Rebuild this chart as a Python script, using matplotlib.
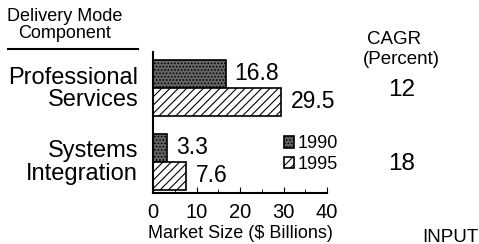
import matplotlib.pyplot as plt
from matplotlib.ticker import MultipleLocator

plt.rcParams['font.family'] = ['Liberation Sans', 'DejaVu Sans']
plt.rcParams['hatch.linewidth'] = 0.8

categories = ['Professional\nServices', 'Systems\nIntegration']
values_1990 = [16.8, 3.3]
values_1995 = [29.5, 7.6]
cagr = ['12', '18']
years = ['1990', '1995']

fig = plt.figure(figsize=(4.79, 2.44), dpi=100)
ax = fig.add_axes([153 / 479, 0.209, 174 / 479, 0.578])

pos = [0, 1]
h = 0.37
ax.barh([p - 0.19 for p in pos], values_1990, height=h, facecolor='#666666',
        edgecolor='black', hatch='.....', linewidth=1.2, label=years[0])
ax.barh([p + 0.19 for p in pos], values_1995, height=h, facecolor='white',
        edgecolor='black', hatch='////', linewidth=1.2, label=years[1])

for p, v in zip(pos, values_1990):
    ax.text(v + 1.9, p - 0.19, f'{v}', va='center', ha='left', fontsize=16.5)
for p, v in zip(pos, values_1995):
    ax.text(v + 2.3, p + 0.19, f'{v}', va='center', ha='left', fontsize=16.5)

ax.set_xlim(0, 40)
ax.set_ylim(1.42, -0.486)
ax.set_yticks([])
for p, c in zip(pos, categories):
    ax.text(-3.4, p + 0.01, c, ha='right', va='center', fontsize=17, linespacing=1.02)

ax.xaxis.set_major_locator(MultipleLocator(10))
ax.xaxis.set_minor_locator(MultipleLocator(5))
ax.tick_params(axis='x', which='both', direction='in', labelsize=14.5, pad=7)
ax.tick_params(axis='x', which='major', length=4)
ax.tick_params(axis='x', which='minor', length=3)
ax.spines['top'].set_visible(False)
ax.spines['right'].set_visible(False)
ax.spines['left'].set_linewidth(1.5)
ax.spines['bottom'].set_linewidth(1.5)
ax.set_xlabel('Market Size ($ Billions)', fontsize=13, labelpad=2)

ax.legend(loc='upper left', bbox_to_anchor=(0.75, 0.41), frameon=False,
          fontsize=13, handlelength=0.6, handleheight=0.6, handletextpad=0.2,
          labelspacing=0.2, borderpad=0, borderaxespad=0)

fig.text(65 / 479, 1 - 25 / 244, 'Delivery Mode\nComponent', ha='center',
         va='center', fontsize=13, linespacing=1.0)
fig.add_artist(plt.Line2D([8 / 479, 138 / 479], [1 - 49 / 244, 1 - 49 / 244],
                          color='black', linewidth=1.5))
fig.text(394 / 479, 1 - 40 / 244, 'CAGR', ha='center', va='center', fontsize=13.5)
fig.text(401 / 479, 1 - 60 / 244, '(Percent)', ha='center', va='center', fontsize=13.5)
for p, c in zip(pos, cagr):
    ax.text(1.43, p + 0.03, c, transform=ax.get_yaxis_transform(), ha='center',
            va='center', fontsize=17.5)
fig.text(450 / 479, 1 - 237 / 244, 'INPUT', ha='center', va='center', fontsize=13.5)

fig.savefig('out.png', dpi=100)
